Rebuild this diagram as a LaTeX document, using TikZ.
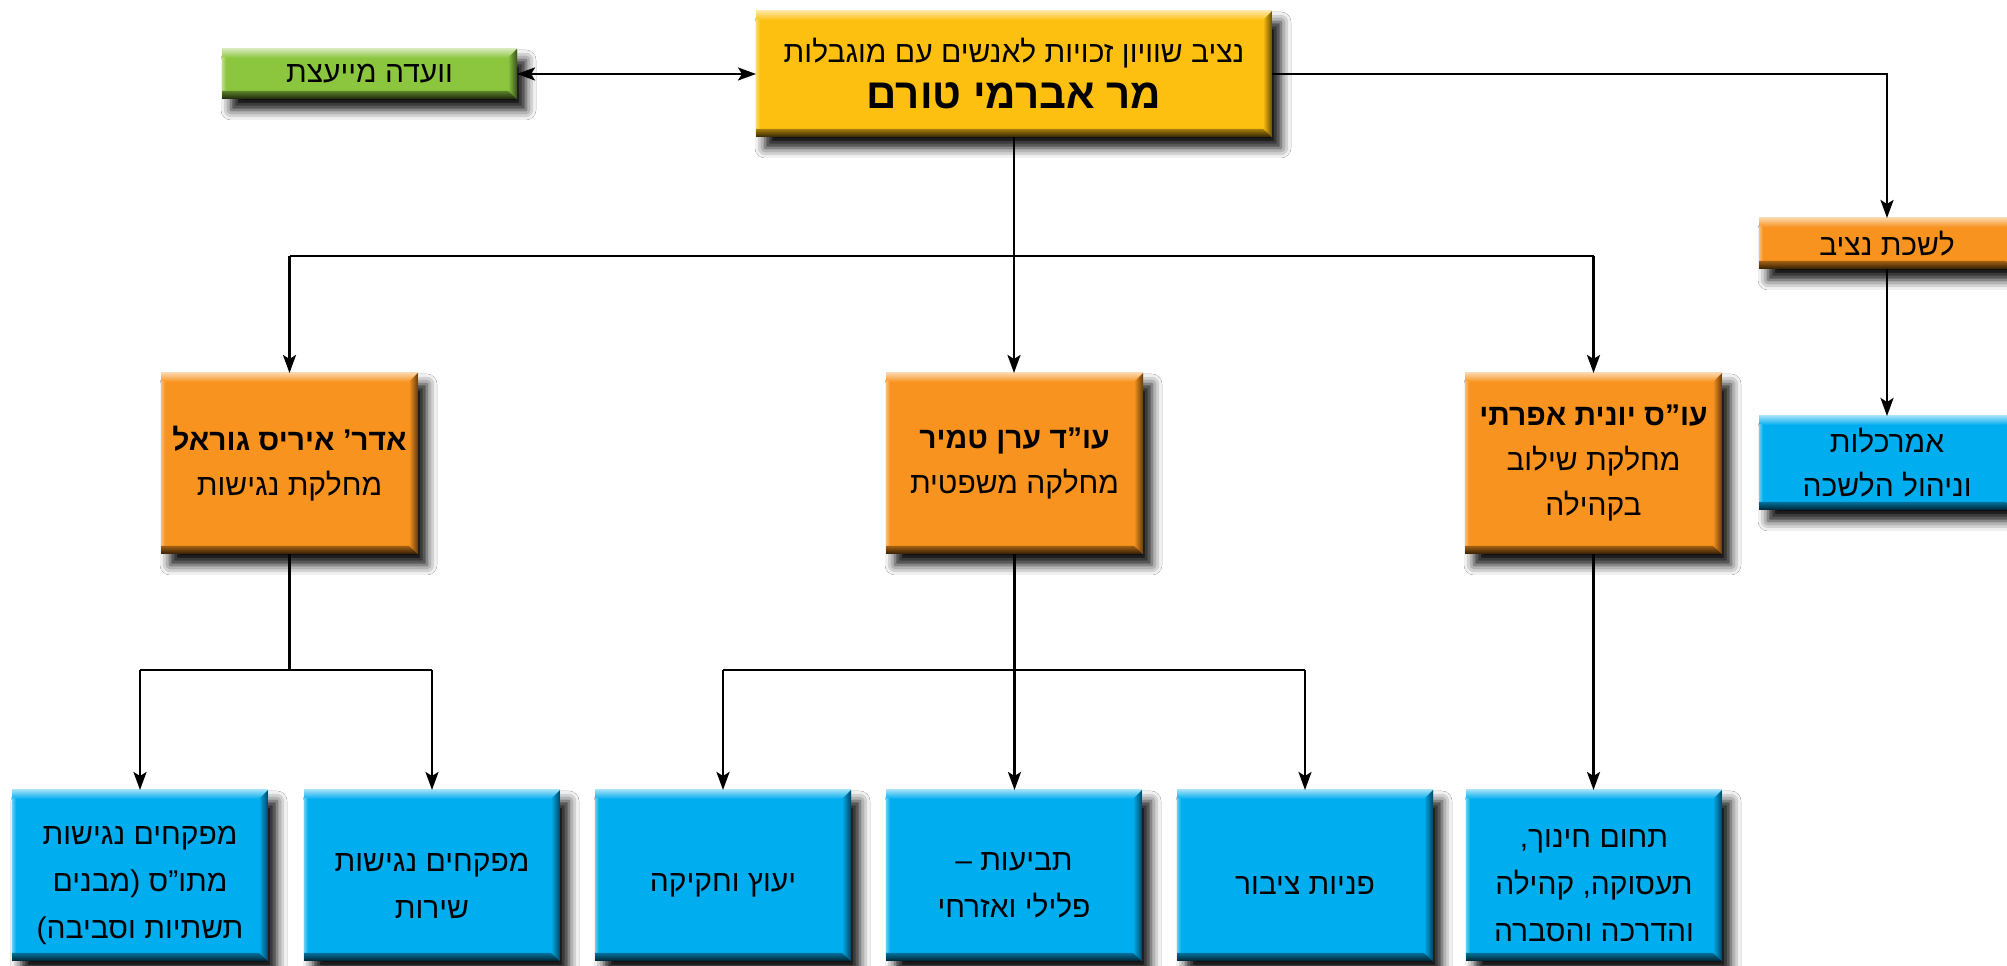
\documentclass[tikz,border=0pt]{standalone}
\usepackage{fontspec}
\setmainfont{Liberation Sans}
\newfontfamily\heb[Script=Hebrew]{Liberation Sans}
\TeXXeTstate=1
\usetikzlibrary{shadows.blur,arrows.meta,calc}
\definecolor{cyel}{HTML}{FEC010}
\definecolor{cgrn}{HTML}{8CC63F}
\definecolor{corg}{HTML}{F7931E}
\definecolor{cblu}{HTML}{00ADEF}
\newcommand\hr[1]{\beginR#1\endR}
\tikzset{
  bev/.style={rectangle, fill=#1, inner sep=0pt, outer sep=0pt, anchor=north west, align=center,
    blur shadow={shadow xshift=9pt, shadow yshift=-11pt, shadow blur radius=10pt, shadow opacity=95},
    path picture={
      \coordinate (ppa) at (path picture bounding box.south west);
      \coordinate (ppb) at (path picture bounding box.north east);
      \shade[top color=#1!40!white, bottom color=#1] (ppa |- ppb) rectangle ($(ppb)+(0,-9)$);
      \shade[left color=#1!60!white, right color=#1] (ppa) rectangle ($(ppa |- ppb)+(4,-9)$);
      \shade[left color=#1, right color=#1!40!black] ($(ppb)+(-9,-9)$) -- (ppb) -- (ppb |- ppa) -- ($(ppb |- ppa)+(-9,8)$) -- cycle;
      \shade[top color=#1!65!black, bottom color=#1!20!black] ($(ppa)+(0,8)$) -- ($(ppb |- ppa)+(-9,8)$) -- (ppb |- ppa) -- (ppa) -- cycle;
    }},
  conn/.style={line width=2.5pt},
  arr/.style={line width=2.5pt, -{Stealth[length=18pt,width=13pt,inset=4pt]}},
  txt/.style={font=\heb\fontsize{30}{47}\selectfont},
}
\begin{document}
\begin{tikzpicture}[x=1pt,y=1pt]
\useasboundingbox (0,0) rectangle (2007,966);
\fill[white] (0,0) rectangle (2007,966);
\clip (0,0) rectangle (2007,966);

% top
\node[bev=cyel, minimum width=516pt, minimum height=126pt, font=\heb\fontsize{30}{46}\selectfont] (top) at (756,955)
  {\hr{נציב שוויון זכויות לאנשים עם מוגבלות}\\
   {\fontsize{42}{46}\selectfont\bfseries\hr{מר אברמי טורם}}};
\node[bev=cgrn, minimum width=295pt, minimum height=50pt, txt] (grn) at (222,917) {\hr{וועדה מייעצת}};
\node[bev=corg, minimum width=256pt, minimum height=51pt, txt] (lsh) at (1759,748) {\hr{לשכת נציב}};
\node[bev=cblu, minimum width=256pt, minimum height=94pt, font=\heb\fontsize{30}{44}\selectfont] (amr) at (1759,550)
  {\hr{אמרכלות}\\\hr{וניהול הלשכה}};

% orange
\node[bev=corg, minimum width=257pt, minimum height=181pt, font=\heb\fontsize{30}{45}\selectfont] (oL) at (161,593)
  {{\bfseries\hr{אדר’ איריס גוראל}}\\\hr{מחלקת נגישות}};
\node[bev=corg, minimum width=257pt, minimum height=181pt, font=\heb\fontsize{30}{45}\selectfont] (oM) at (886,593)
  {{\bfseries\hr{עו”ד ערן טמיר}}\\\hr{מחלקה משפטית}};
\node[bev=corg, minimum width=257pt, minimum height=181pt, font=\heb\fontsize{30}{45}\selectfont] (oR) at (1465,593)
  {{\bfseries\hr{עו”ס יונית אפרתי}}\\\hr{מחלקת שילוב}\\\hr{בקהילה}};

% blue
\foreach \n/\x in {b1/12,b2/304,b3/595,b4/886,b5/1177,b6/1466}
  \node[bev=cblu, minimum width=256pt, minimum height=171pt] (\n) at (\x,176) {};
\node[txt, align=center] (t1) at ($(b1.center)+(0,-10)$) {\hr{מפקחים נגישות}\\\hr{מתו”ס (מבנים}\\\hr{תשתיות וסביבה)}};
\node[txt, align=center] (t2) at ($(b2.center)+(0,-10)$) {\hr{מפקחים נגישות}\\\hr{שירות}};
\node[txt, align=center] (t3) at ($(b3.center)+(0,-10)$) {\hr{יעוץ וחקיקה}};
\node[txt, align=center] (t4) at ($(b4.center)+(0,-10)$) {\hr{תביעות –}\\\hr{פלילי ואזרחי}};
\node[txt, align=center] (t5) at ($(b5.center)+(0,-10)$) {\hr{פניות ציבור}};
\node[txt, align=center] (t6) at ($(b6.center)+(0,-10)$) {\hr{תחום חינוך,}\\\hr{תעסוקה, קהילה}\\\hr{והדרכה והסברה}};

% connectors
\coordinate (bus1) at (1014,710);
\coordinate (bus2) at (1014,296);
\draw[line width=2.5pt, {Stealth[length=18pt,width=13pt,inset=4pt]}-{Stealth[length=18pt,width=13pt,inset=4pt]}] (grn.east) -- (grn.east -| top.west);
\draw[arr] (top.east) -| (lsh.north);
\draw[arr] (lsh.south) -- (amr.north);
\draw[arr] (top.south) -- (top.south |- oM.north);
\draw[conn] (oL.north |- bus1) -- (oR.north |- bus1);
\draw[arr] (oL.north |- bus1) -- (oL.north);
\draw[arr] (oR.north |- bus1) -- (oR.north);
% left group
\draw[conn] (oL.south) -- (oL.south |- bus2);
\draw[conn] (b1.north |- bus2) -- (b2.north |- bus2);
\draw[arr] (b1.north |- bus2) -- (b1.north);
\draw[arr] (b2.north |- bus2) -- (b2.north);
% middle group
\draw[arr] (oM.south) -- (oM.south |- b4.north);
\draw[conn] (b3.north |- bus2) -- (b5.north |- bus2);
\draw[arr] (b3.north |- bus2) -- (b3.north);
\draw[arr] (b5.north |- bus2) -- (b5.north);
% right group
\draw[arr] (oR.south) -- (oR.south |- b6.north);
\end{tikzpicture}
\end{document}
